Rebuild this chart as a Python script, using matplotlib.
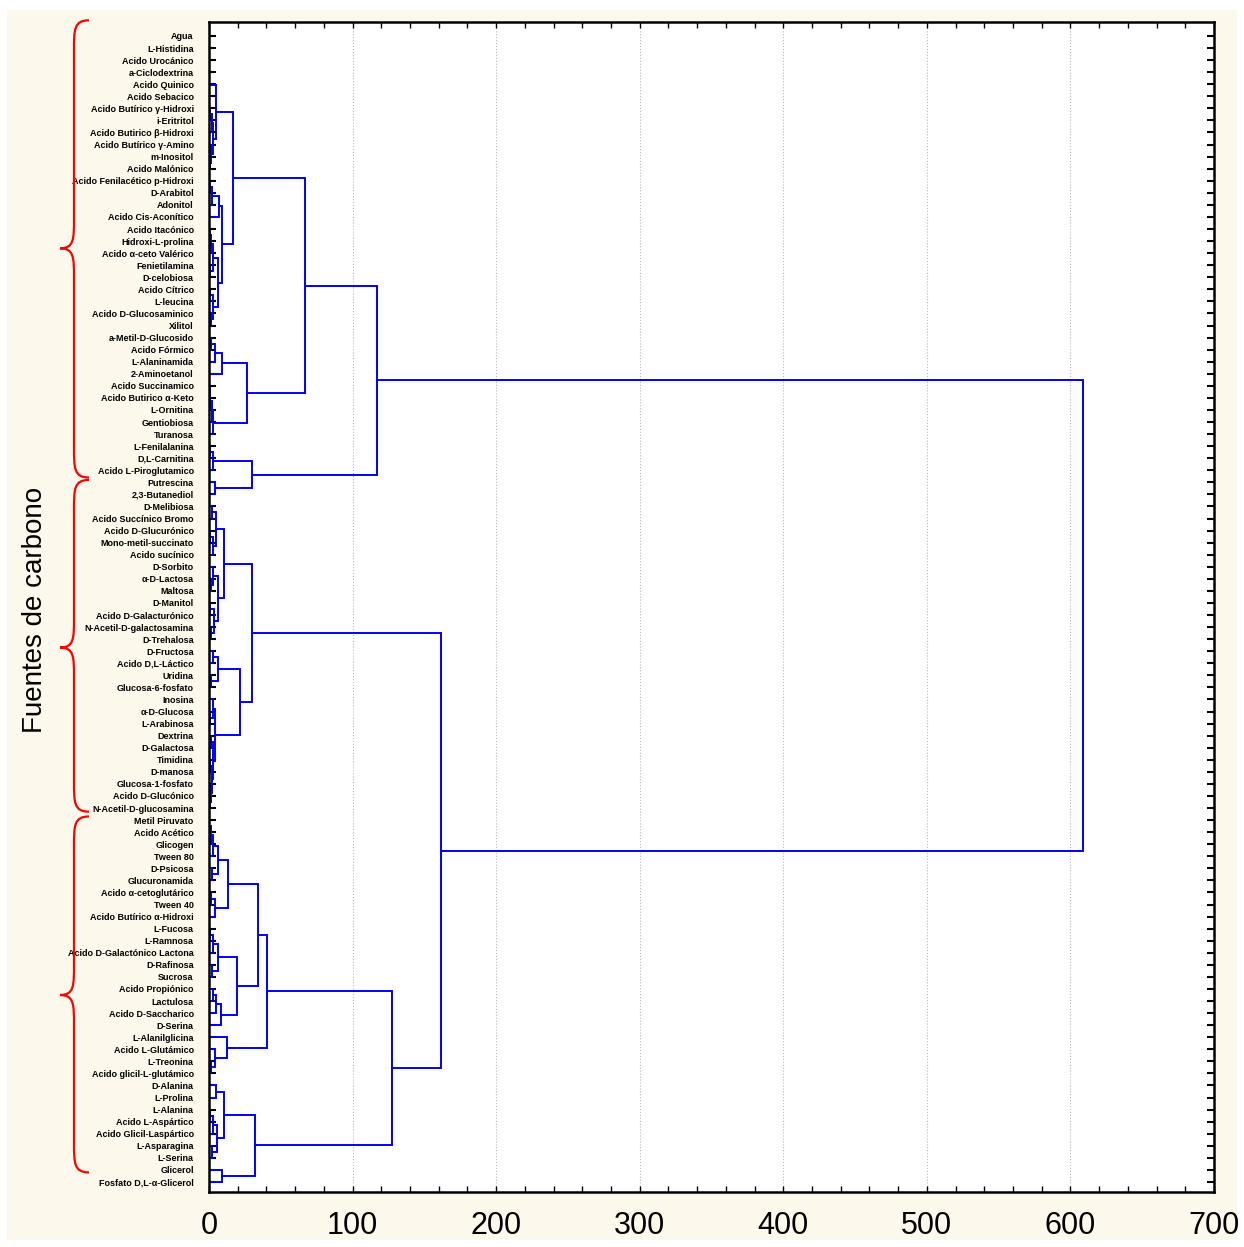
import matplotlib
matplotlib.use("Agg")
import matplotlib.pyplot as plt
from matplotlib.patches import Rectangle
from matplotlib.path import Path
from matplotlib.patches import PathPatch
import matplotlib.transforms as mtransforms

# leaves, top to bottom
leaves = [
    "Agua", "L-Histidina", "Acido Urocánico", "a-Ciclodextrina", "Acido Quinico",
    "Acido Sebacico", "Acido Butírico γ-Hidroxi", "i-Eritritol", "Acido Butirico β-Hidroxi",
    "Acido Butírico γ-Amino", "m-Inositol", "Acido Malónico", "Acido Fenilacético p-Hidroxi",
    "D-Arabitol", "Adonitol", "Acido Cis-Aconítico", "Acido Itacónico", "Hidroxi-L-prolina",
    "Acido α-ceto Valérico", "Fenietilamina", "D-celobiosa", "Acido Cítrico", "L-leucina",
    "Acido D-Glucosaminico", "Xilitol", "a-Metil-D-Glucosido", "Acido Fórmico",
    "L-Alaninamida", "2-Aminoetanol", "Acido Succinamico", "Acido Butirico α-Keto",
    "L-Ornitina", "Gentiobiosa", "Turanosa", "L-Fenilalanina", "D,L-Carnitina",
    "Acido L-Piroglutamico", "Putrescina", "2,3-Butanediol", "D-Melibiosa",
    "Acido Succínico Bromo", "Acido D-Glucurónico", "Mono-metil-succinato", "Acido sucínico",
    "D-Sorbito", "α-D-Lactosa", "Maltosa", "D-Manitol", "Acido D-Galacturónico",
    "N-Acetil-D-galactosamina", "D-Trehalosa", "D-Fructosa", "Acido D,L-Láctico", "Uridina",
    "Glucosa-6-fosfato", "Inosina", "α-D-Glucosa", "L-Arabinosa", "Dextrina", "D-Galactosa",
    "Timidina", "D-manosa", "Glucosa-1-fosfato", "Acido D-Glucónico",
    "N-Acetil-D-glucosamina", "Metil Piruvato", "Acido Acético", "Glicogen", "Tween 80",
    "D-Psicosa", "Glucuronamida", "Acido α-cetoglutárico", "Tween 40",
    "Acido Butírico α-Hidroxi", "L-Fucosa", "L-Ramnosa", "Acido D-Galactónico Lactona",
    "D-Rafinosa", "Sucrosa", "Acido Propiónico", "Lactulosa", "Acido D-Saccharico",
    "D-Serina", "L-Alanilglicina", "Acido L-Glutámico", "L-Treonina",
    "Acido glicil-L-glutámico", "D-Alanina", "L-Prolina", "L-Alanina", "Acido L-Aspártico",
    "Acido Glicil-Laspártico", "L-Asparagina", "L-Serina", "Glicerol",
    "Fosfato D,L-α-Glicerol",
]

# merges: (node name, left, right, linkage distance)
merges = [
    ("a1", 0, 1, 0.0), ("a2", "a1", 2, 0.0), ("a3", "a2", 3, 0.0),
    ("a4", "a3", 4, 0.0), ("a5", "a4", 5, 0.0),
    ("q1", 6, 7, 1.0), ("q1b", "q1", 8, 1.8), ("q2", 10, 11, 0.8),
    ("q3", 9, "q2", 1.5), ("q", "q1b", "q3", 3.0), ("p", "a5", "q", 4.9),
    ("b1", 12, 13, 0.5), ("b2", "b1", 14, 2.0), ("b3", "b2", 15, 7.0),
    ("b4", 16, 17, 0.8), ("b5", "b4", 18, 1.6), ("b6", 19, 20, 1.0),
    ("b7", "b5", "b6", 2.6), ("b8", 21, 22, 0.7), ("b9", 23, 24, 1.1),
    ("b10", "b8", "b9", 3.0), ("b11", "b7", "b10", 6.1), ("b", "b3", "b11", 9.1),
    ("a", "p", "b", 16.7),
    ("c1", 25, 26, 1.5), ("c2", "c1", 27, 4.2), ("c3", "c2", 28, 9.1),
    ("c4", 29, 30, 0.5), ("c5", "c4", 31, 1.0), ("c6", "c5", 32, 1.8),
    ("c7", "c6", 33, 2.8), ("c", "c3", "c7", 26.5),
    ("ac", "a", "c", 66.9),
    ("d1", 34, 35, 0.5), ("d2", "d1", 36, 2.8), ("d3", 37, 38, 4.2),
    ("d", "d2", "d3", 30.0),
    ("top", "ac", "d", 117.0),
    ("f1", 39, 40, 2.0), ("f2", 41, 42, 1.0), ("f3", "f2", 43, 3.0),
    ("f4", "f1", "f3", 4.9), ("f5", 45, 46, 1.2), ("f6", 44, "f5", 2.5),
    ("f7", 47, 48, 1.0), ("f8", 49, 50, 1.5), ("f9", "f7", "f8", 3.2),
    ("f10", "f6", "f9", 6.3), ("f", "f4", "f10", 10.4),
    ("g1", 51, 52, 2.5), ("g2", 53, 54, 1.5), ("g3", "g1", "g2", 6.3),
    ("g4", 56, 57, 1.0), ("g5", 55, "g4", 2.5), ("g6", 58, 59, 1.2),
    ("g7", 60, 61, 0.8), ("g8", 63, 64, 0.6), ("g9", 62, "g8", 1.4),
    ("g10", "g7", "g9", 2.2), ("g11", "g6", "g10", 3.0), ("g12", "g5", "g11", 4.2),
    ("g", "g3", "g12", 21.6),
    ("e", "f", "g", 30.2),
    ("h1", 65, 66, 0.3), ("h2", "h1", 67, 1.5), ("h3", "h2", 68, 3.0),
    ("h4", 69, 70, 2.0), ("h5", "h3", "h4", 6.3), ("h6", 71, 72, 1.5),
    ("h7", "h6", 73, 4.0), ("h8", "h5", "h7", 13.2),
    ("i1", 74, 75, 1.0), ("i2", "i1", 76, 2.5), ("i3", 77, 78, 2.0),
    ("i4", "i2", "i3", 6.1), ("i5", 79, 80, 2.5), ("i6", "i5", 81, 5.0),
    ("i7", "i6", 82, 8.4), ("i8", "i4", "i7", 19.5), ("i9", "h8", "i8", 34.1),
    ("j1", 85, 86, 1.5), ("j2", 84, "j1", 4.2), ("j3", 83, "j2", 12.5),
    ("gg", "i9", "j3", 40.2),
    ("k1", 87, 88, 4.7), ("k2", 89, 90, 1.0), ("k3", "k2", 91, 2.5),
    ("k4", 92, 93, 2.0), ("k5", "k3", "k4", 5.8), ("k6", "k1", "k5", 10.7),
    ("k7", 94, 95, 8.8), ("hh", "k6", "k7", 32.0),
    ("bot", "gg", "hh", 127.4),
    ("mid", "e", "bot", 161.6),
    ("root", "top", "mid", 608.6),
]

# brace spans in leaf positions (start, end, tip)
brace_spans = [(-1.3, 36.6, 17.6), (36.8, 64.3, 50.7), (64.7, 94.2, 79.5)]

W, H = 1244, 1247
fig = plt.figure(figsize=(W / 100, H / 100), dpi=100, facecolor="white")
fig.patches.append(Rectangle((7 / W, 1 - 1240 / H), 1230 / W, 1230 / H,
                             transform=fig.transFigure, facecolor="#fdf8ec",
                             edgecolor="none", zorder=-5))
ax = fig.add_axes([209 / W, 1 - 1192 / H, (1214 - 209) / W, (1192 - 22) / H])
ax.set_facecolor("white")

pos = {}
hgt = {}
for i in range(len(leaves)):
    pos[i] = i
    hgt[i] = 0.0
for name, l, r, h in merges:
    yl, yr = pos[l], pos[r]
    ax.plot([hgt[l], h, h, hgt[r]], [yl, yl, yr, yr], color="#0000ff", lw=1.4,
            solid_joinstyle="miter", zorder=2)
    pos[name] = (yl + yr) / 2
    hgt[name] = h

ax.set_xlim(0, 700)
ax.set_ylim(95.83, -1.16)
ax.set_xticks(range(0, 701, 100))
ax.set_xticks(range(0, 701, 20), minor=True)
ax.set_yticks(range(len(leaves)))
ax.set_yticklabels(leaves, fontsize=6.5, fontweight="bold",
                   fontfamily=["Liberation Sans", "DejaVu Sans"])
ax.xaxis.grid(True, which="major", color="#b8b8b8", linestyle=":", lw=0.8)
ax.set_axisbelow(True)
ax.tick_params(axis="y", direction="in", length=5, width=1.5, left=True, right=True,
               pad=11)
ax.tick_params(axis="x", which="both", direction="in", length=4, width=1.0,
               top=True, bottom=True, pad=14)
for lab in ax.get_xticklabels():
    lab.set_fontsize(22)
    lab.set_fontfamily(["Liberation Sans Narrow", "Liberation Sans", "DejaVu Sans"])
for sp in ax.spines.values():
    sp.set_linewidth(1.8)
    sp.set_zorder(3)

fig.text(35 / W, 1 - 610 / H, "Fuentes de carbono", rotation=90, ha="center",
         va="center", fontsize=20, fontfamily=["Liberation Sans", "DejaVu Sans"])

# red curly braces, x in figure fraction, y in leaf positions
trans = mtransforms.blended_transform_factory(fig.transFigure, ax.transData)
x_end, x_mid, x_tip = 89 / W, 74 / W, 60 / W
for y0, y1, yt in brace_spans:
    r = 2.5
    verts = [
        (x_end, y0),
        (x_mid, y0), (x_mid, y0 + r * 0.3), (x_mid, y0 + r),
        (x_mid, yt - r),
        (x_mid, yt - r * 0.3), (x_mid, yt), (x_tip, yt),
        (x_mid, yt), (x_mid, yt + r * 0.3), (x_mid, yt + r),
        (x_mid, y1 - r),
        (x_mid, y1 - r * 0.3), (x_mid, y1), (x_end, y1),
    ]
    codes = [Path.MOVETO, Path.CURVE4, Path.CURVE4, Path.CURVE4, Path.LINETO,
             Path.CURVE4, Path.CURVE4, Path.CURVE4, Path.CURVE4, Path.CURVE4,
             Path.CURVE4, Path.LINETO, Path.CURVE4, Path.CURVE4, Path.CURVE4]
    fig.patches.append(PathPatch(Path(verts, codes), transform=trans, facecolor="none",
                                 edgecolor="#ff0000", lw=1.6, zorder=5))

fig.savefig("out.png", dpi=100, facecolor=fig.get_facecolor())
